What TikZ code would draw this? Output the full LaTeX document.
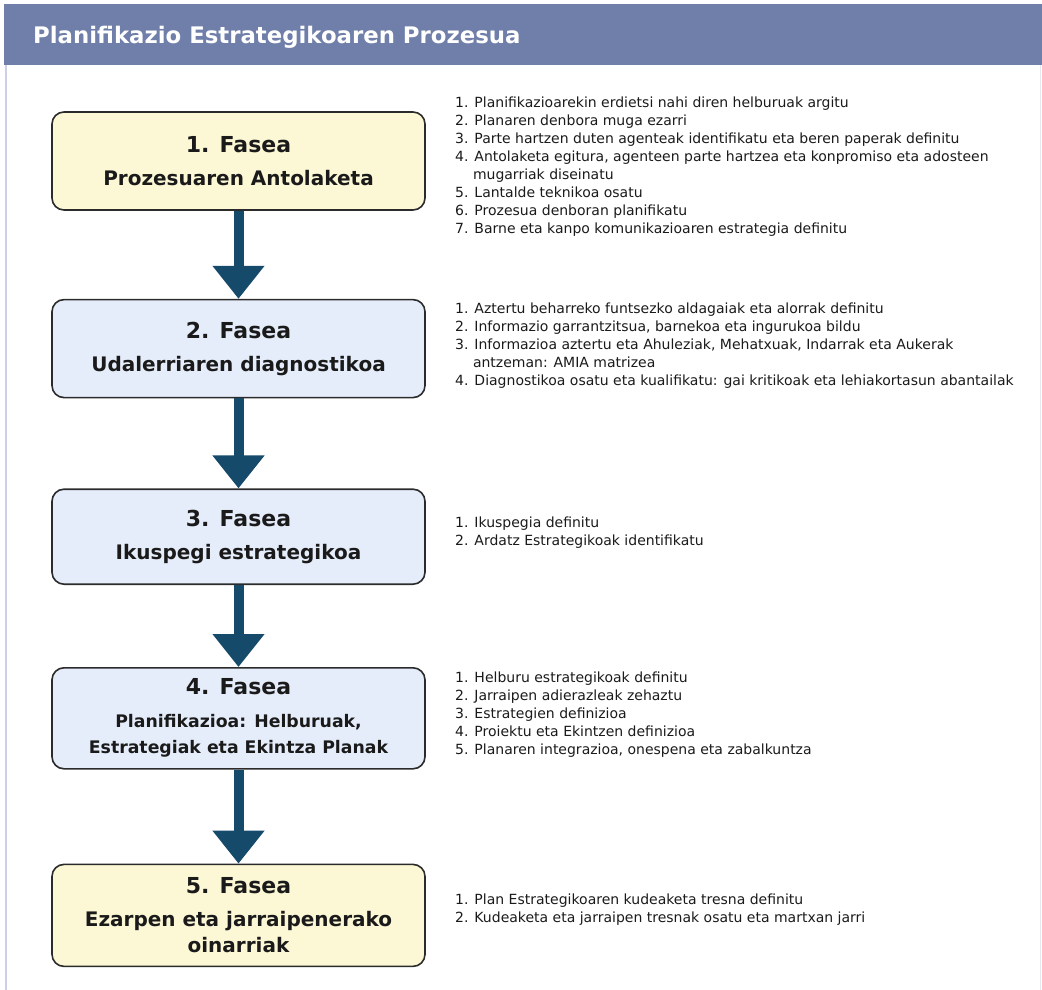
\documentclass[tikz,border=0pt]{standalone}
\usepackage{fontspec}
\setmainfont{DejaVu Sans}
\usepackage{xcolor}
\definecolor{cHead}{HTML}{6F7FA9}
\definecolor{cFrame}{HTML}{C9D1E3}
\definecolor{cEdge}{HTML}{2B2B2B}
\definecolor{cYellow}{HTML}{FCF7D5}
\definecolor{cBlue}{HTML}{E6EDFA}
\definecolor{cArrow}{HTML}{164A6B}
\definecolor{cText}{HTML}{1A1A1A}
\usepackage{tikz}
\usetikzlibrary{positioning,arrows.meta}
\tikzset{
  fase-box/.style={draw=cEdge,line width=1.6pt,rounded corners=12pt,
    minimum width=373pt,minimum height=98pt,align=center,text=cText,
    font=\fontsize{20}{26}\selectfont\bfseries},
  fase-yellow/.style={fill=cYellow},
  fase-blue/.style={fill=cBlue},
  step-list/.style={anchor=north west,inner sep=0pt,align=left,text=cText,
    font=\fontsize{14}{18}\selectfont},
  arrow-fase/.style={-{Triangle[length=33pt,width=50pt]},line width=10pt,
    draw=cArrow,fill=cArrow},
}
\newcommand{\fasenum}[1]{{\fontsize{22}{26}\selectfont #1. Fasea}\\[7pt]}

\begin{document}
\begin{tikzpicture}[x=1pt,y=-1pt]
  \useasboundingbox (0,0) rectangle (1042,990);
  % goiburua eta markoa
  \fill[cHead] (4,4) rectangle (1042,65);
  \draw[cFrame,line width=1.5pt] (6,65) -- (6,990);
  \draw[cFrame!50,line width=1pt] (1040,65) -- (1040,990);
  \node[anchor=west,text=white,inner sep=0pt,
    font=\fontsize{22.8}{26}\selectfont\bfseries] (title) at (33,37)
    {Planifikazio Estrategikoaren Prozesua};
  % faseak
  \node[fase-box,fase-yellow] (f1) at (238.5,161)
    {\fasenum{1}Prozesuaren Antolaketa};
  \node[fase-box,fase-blue,below=88pt of f1] (f2)
    {\fasenum{2}Udalerriaren diagnostikoa};
  \node[fase-box,fase-blue,below=90pt of f2,minimum height=95pt] (f3)
    {\fasenum{3}Ikuspegi estrategikoa};
  \node[fase-box,fase-blue,below=82pt of f3,minimum height=101pt,
    font=\fontsize{17.3}{26}\selectfont\bfseries] (f4)
    {\fasenum{4}Planifikazioa: Helburuak,\\Estrategiak eta Ekintza Planak};
  \node[fase-box,fase-yellow,below=94pt of f4,minimum height=102pt] (f5)
    {\fasenum{5}Ezarpen eta jarraipenerako\\oinarriak};
  \foreach \a/\b in {f1/f2,f2/f3,f3/f4,f4/f5}
    \draw[arrow-fase] (\a.south) -- (\b.north);
  % urratsak
  \node[step-list] (l1) at (455,97) {%
    1. Planifikazioarekin erdietsi nahi diren helburuak argitu\\
    2. Planaren denbora muga ezarri\\
    3. Parte hartzen duten agenteak identifikatu eta beren paperak definitu\\
    4. Antolaketa egitura, agenteen parte hartzea eta konpromiso eta adosteen\\
    \hphantom{4.~}mugarriak diseinatu\\
    5. Lantalde teknikoa osatu\\
    6. Prozesua denboran planifikatu\\
    7. Barne eta kanpo komunikazioaren estrategia definitu};
  \node[step-list] (l2) at (455,303) {%
    1. Aztertu beharreko funtsezko aldagaiak eta alorrak definitu\\
    2. Informazio garrantzitsua, barnekoa eta ingurukoa bildu\\
    3. Informazioa aztertu eta Ahuleziak, Mehatxuak, Indarrak eta Aukerak\\
    \hphantom{3.~}antzeman: AMIA matrizea\\
    4. Diagnostikoa osatu eta kualifikatu: gai kritikoak eta lehiakortasun abantailak};
  \node[step-list] (l3) at (455,517) {%
    1. Ikuspegia definitu\\
    2. Ardatz Estrategikoak identifikatu};
  \node[step-list] (l4) at (455,672) {%
    1. Helburu estrategikoak definitu\\
    2. Jarraipen adierazleak zehaztu\\
    3. Estrategien definizioa\\
    4. Proiektu eta Ekintzen definizioa\\
    5. Planaren integrazioa, onespena eta zabalkuntza};
  \node[step-list] (l5) at (455,894) {%
    1. Plan Estrategikoaren kudeaketa tresna definitu\\
    2. Kudeaketa eta jarraipen tresnak osatu eta martxan jarri};
\end{tikzpicture}
\end{document}
